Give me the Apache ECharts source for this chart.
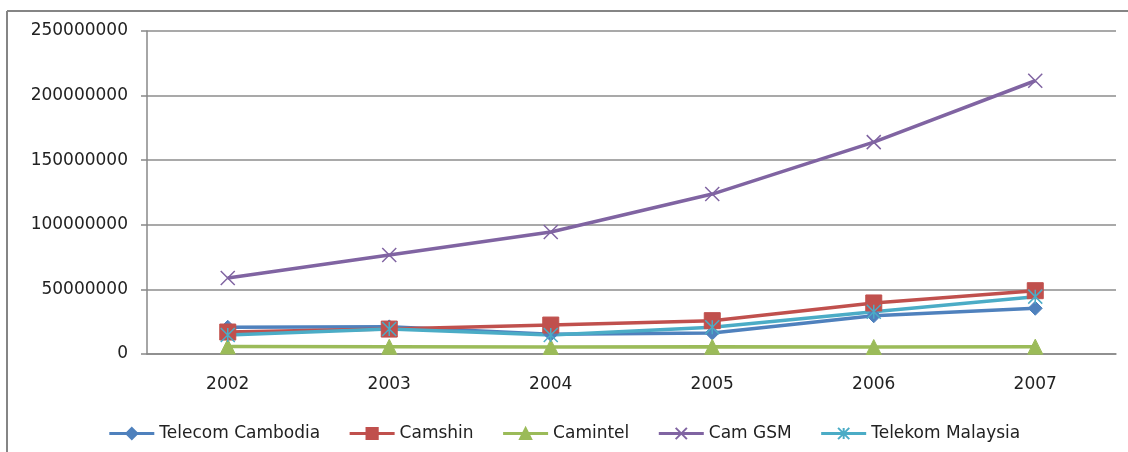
<!DOCTYPE html>
<html>
<head>
<meta charset="utf-8">
<script src="https://cdn.jsdelivr.net/npm/echarts@6/dist/echarts.min.js"></script>
<style>
html,body{margin:0;padding:0;background:#fff;}
#c{width:1128px;height:452px;}
</style>
</head>
<body>
<div id="c"></div>
<script>
const years = ['2002','2003','2004','2005','2006','2007'];
const telecomCambodia = [20700000, 21000000, 15200000, 16300000, 29600000, 35400000];
const camshin = [17000000, 19300000, 22400000, 25800000, 39500000, 49000000];
const camintel = [5800000, 5600000, 5500000, 5600000, 5400000, 5700000];
const camGSM = [58800000, 76600000, 94400000, 123800000, 164000000, 211500000];
const telekomMalaysia = [14700000, 19300000, 14700000, 20700000, 32700000, 44400000];
const yTicks = [0, 50000000, 100000000, 150000000, 200000000, 250000000];

const FONT = 'DejaVu Sans';
const chart = echarts.init(document.getElementById('c'));
function mk(name, data, color, symbol, size, extra) {
  return Object.assign({
    name, type: 'line', data,
    symbol, symbolSize: size,
    lineStyle: {color, width: 3.5},
    itemStyle: {color, borderColor: color, borderWidth: 1},
    emphasis: {disabled: true},
    animation: false
  }, extra || {});
}
const xPath = 'path://M0,0L10,10M10,0L0,10';
const starPath = 'path://M5,0L5,10M0,0L10,10M10,0L0,10';
chart.setOption({
  animation: false,
  graphic: [
    {type: 'line', shape: {x1: 7, y1: 11, x2: 1128, y2: 11}, style: {stroke: '#858585', lineWidth: 2}},
    {type: 'line', shape: {x1: 7, y1: 11, x2: 7, y2: 452}, style: {stroke: '#858585', lineWidth: 2}}
  ],
  grid: {left: 147, right: 12, top: 31, bottom: 98, containLabel: false},
  legend: {
    bottom: 5,
    left: 'center',
    itemWidth: 45,
    itemHeight: 14,
    itemGap: 28,
    lineStyle: {width: 3},
    textStyle: {fontFamily: FONT, fontSize: 17, color: '#222'},
    data: ['Telecom Cambodia','Camshin','Camintel','Cam GSM','Telekom Malaysia']
  },
  xAxis: {
    type: 'category',
    data: years,
    boundaryGap: true,
    axisLine: {lineStyle: {color: '#888', width: 1.5}},
    axisTick: {length: 6, lineStyle: {color: '#888', width: 1.5}},
    axisLabel: {fontFamily: FONT, fontSize: 17, color: '#222', margin: 22},
    splitLine: {show: false}
  },
  yAxis: {
    type: 'value',
    min: yTicks[0], max: yTicks[yTicks.length-1], interval: yTicks[1]-yTicks[0],
    axisLine: {show: true, lineStyle: {color: '#888', width: 1.5}},
    axisTick: {show: true, length: 6, lineStyle: {color: '#888', width: 1.5}},
    axisLabel: {fontFamily: FONT, fontSize: 17, color: '#222', margin: 19, formatter: v => String(v)},
    splitLine: {lineStyle: {color: '#8c8c8c', width: 1.5}}
  },
  series: [
    mk('Telecom Cambodia', telecomCambodia, '#4F81BD', 'diamond', 14),
    mk('Camshin', camshin, '#C0504D', 'rect', 16),
    mk('Camintel', camintel, '#9BBB59', 'triangle', 15),
    mk('Cam GSM', camGSM, '#8064A2', xPath, 14, {itemStyle: {color: 'none', borderColor: '#8064A2', borderWidth: 1.5}}),
    mk('Telekom Malaysia', telekomMalaysia, '#4BACC6', starPath, 14, {itemStyle: {color: 'none', borderColor: '#4BACC6', borderWidth: 1.5}})
  ]
});
</script>
</body>
</html>
